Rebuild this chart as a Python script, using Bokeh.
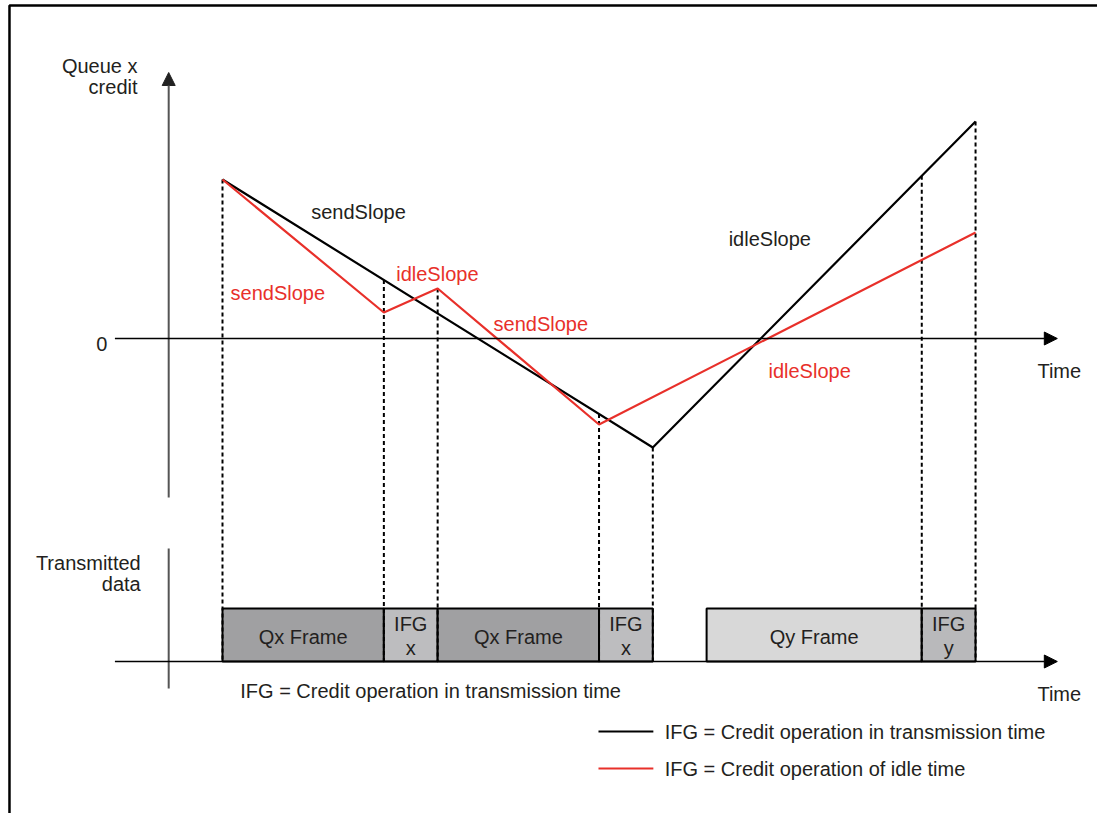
from bokeh.plotting import figure
from bokeh.models import Range1d, ColumnDataSource, Arrow, NormalHead
from bokeh.core.properties import value
from bokeh.embed import file_html
from bokeh.resources import INLINE
import numpy as np

# ---- data ----
black_t = [0, 8, 14]
black_c = [15.9, -10.9, 21.7]
red_t = [0, 3, 4, 7, 14]
red_c = [15.9, 2.6, 5.0, -8.6, 10.6]

frame_start = [0, 3, 4, 7, 9, 13]
frame_end = [3, 4, 7, 8, 13, 14]
frame_label1 = ["Qx Frame", "IFG", "Qx Frame", "IFG", "Qy Frame", "IFG"]
frame_label2 = ["", "x", "", "x", "", "y"]
frame_color = ["#a0a0a2", "#bdbdbf", "#a0a0a2", "#bdbdbf", "#d8d8d8", "#b9b9bb"]
boundary_t = [0, 3, 4, 7, 8, 13, 14]

FONT = value("Liberation Sans")
FS = "20px"
TXT = "#231f20"
RED = "#e8302a"

p = figure(width=1097, height=813, output_backend="svg", toolbar_location=None,
           x_range=Range1d(-4.127, 16.267), y_range=Range1d(-47.5, 33.8),
           x_axis_type=None, y_axis_type=None, min_border=0,
           outline_line_color=None)
p.xgrid.visible = False
p.ygrid.visible = False
p.background_fill_color = "white"
p.border_fill_color = "white"

# outer frame (left and top edges visible)
p.quad(left=[-3.96], right=[30], top=[33.3], bottom=[-80], fill_color=None,
       line_color="black", line_width=2.5)

box_bottom, box_top = -32.3, -27.0

# frames
src = ColumnDataSource(dict(l=frame_start, r=frame_end, c=frame_color,
                            mid=[(a + b) / 2 for a, b in zip(frame_start, frame_end)],
                            t1=frame_label1, t2=frame_label2))
p.quad(left="l", right="r", top=box_top, bottom=box_bottom, fill_color="c",
       line_color="black", line_width=2, source=src)

# dashed guide lines (from the vertex above each boundary)
tops = []
for t in boundary_t:
    top = float(np.interp(t, black_t, black_c))
    if t in red_t:
        top = max(top, red_c[red_t.index(t)])
    tops.append(top)
p.segment(x0=boundary_t, y0=tops, x1=boundary_t, y1=[box_bottom] * len(boundary_t),
          line_color="black", line_width=2, line_dash="4 3")

# axes
p.add_layout(Arrow(end=NormalHead(size=13, fill_color="#222", line_color="#222"),
                   x_start=-1.0, y_start=-15.9, x_end=-1.0, y_end=26.6,
                   line_color="#555", line_width=2))
p.segment(x0=[-1.0], y0=[-21.0], x1=[-1.0], y1=[-35.0], line_color="#555", line_width=2)
for yy in (0, box_bottom):
    p.add_layout(Arrow(end=NormalHead(size=13, fill_color="black", line_color="black"),
                       x_start=-2.0, y_start=yy, x_end=15.52, y_end=yy,
                       line_color="black", line_width=1.3))

# series
p.line(black_t, black_c, line_color="black", line_width=2.2)
p.line(red_t, red_c, line_color=RED, line_width=2.2)

# frame labels
mids = src.data["mid"]
p.text(x=[m for m, t in zip(mids, frame_label2) if t == ""],
       y=[-29.8] * 3,
       text=[a for a, t in zip(frame_label1, frame_label2) if t == ""],
       text_align="center", text_baseline="middle", text_font=FONT,
       text_font_size=FS, text_color=TXT)
ifg_mid = [m for m, t in zip(mids, frame_label2) if t != ""]
p.text(x=ifg_mid, y=[-28.5] * len(ifg_mid),
       text=[a for a, t in zip(frame_label1, frame_label2) if t != ""],
       text_align="center", text_baseline="middle", text_font=FONT,
       text_font_size=FS, text_color=TXT)
p.text(x=ifg_mid, y=[-30.9] * len(ifg_mid),
       text=[t for t in frame_label2 if t != ""],
       text_align="center", text_baseline="middle", text_font=FONT,
       text_font_size=FS, text_color=TXT)

def label(x, y, s, color=TXT, align="left"):
    p.text(x=[x], y=[y], text=[s], text_align=align, text_baseline="middle",
           text_font=FONT, text_font_size=FS, text_color=color)

label(-1.58, 27.3, "Queue x", align="right")
label(-1.58, 25.2, "credit", align="right")
label(-2.14, -0.5, "0", align="right")
label(15.15, -3.2, "Time")
label(15.15, -35.5, "Time")
label(-1.52, -22.4, "Transmitted", align="right")
label(-1.52, -24.5, "data", align="right")
label(1.65, 12.7, "sendSlope")
label(9.41, 10.0, "idleSlope")
label(0.15, 4.6, "sendSlope", color=RED)
label(3.23, 6.5, "idleSlope", color=RED)
label(5.04, 1.5, "sendSlope", color=RED)
label(10.15, -3.2, "idleSlope", color=RED)
label(0.33, -35.2, "IFG = Credit operation in transmission time")

# legend
p.segment(x0=[6.99], y0=[-39.3], x1=[8.01], y1=[-39.3], line_color="black", line_width=2.2)
p.segment(x0=[6.99], y0=[-43.0], x1=[8.01], y1=[-43.0], line_color=RED, line_width=2.2)
label(8.22, -39.3, "IFG = Credit operation in transmission time")
label(8.22, -43.0, "IFG = Credit operation of idle time")

open("out.html", "w").write(file_html(p, INLINE))
